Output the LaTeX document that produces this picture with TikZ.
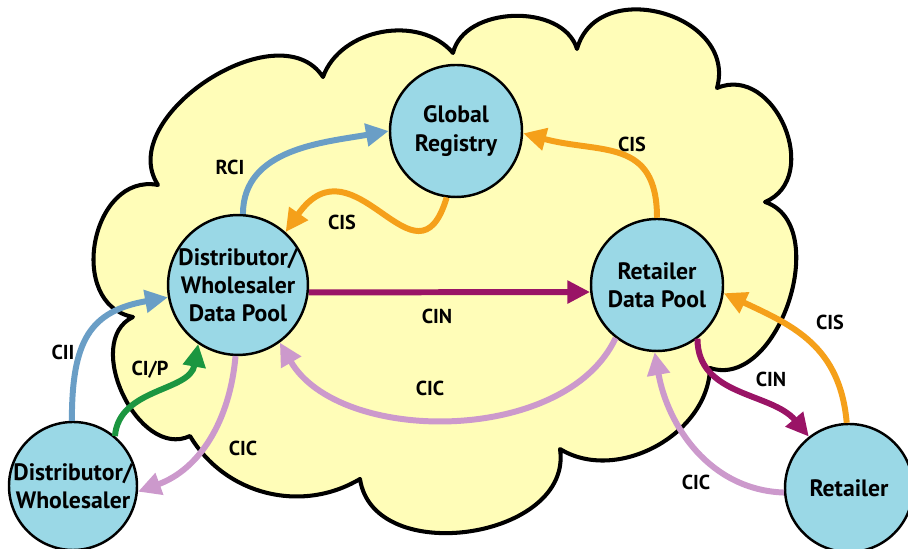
\documentclass[tikz,border=0pt]{standalone}
\usepackage{fontspec}
\setmainfont{PT Sans}
\usepackage{xcolor}
\usepackage{tikz}
\usetikzlibrary{positioning, arrows.meta}

\definecolor{poolblue}{HTML}{9AD8E6}
\definecolor{cloudyellow}{HTML}{FFFDB8}
\definecolor{blueflow}{HTML}{6A9EC6}
\definecolor{orangeflow}{HTML}{F5A01A}
\definecolor{purpleflow}{HTML}{9A1466}
\definecolor{pinkflow}{HTML}{CC99CC}
\definecolor{greenflow}{HTML}{1B9640}

\begin{document}
\begin{tikzpicture}[
    pool/.style={circle, draw=black, line width=1.4pt, fill=poolblue, minimum size=2.64cm,
      inner sep=0pt, align=center, font=\bfseries\fontsize{13.5}{16}\selectfont},
    flow/.style={line width=3.4pt, -{Triangle[length=13pt, width=12.5pt]}},
    lbl/.style={font=\bfseries\fontsize{11.5}{13}\selectfont}
  ]
  \useasboundingbox (0,0) rectangle (18.16,10.98);

  % Cloud
  \draw[line width=2.3pt, fill=cloudyellow, line join=round]
    (3.16,7.28) to[bend left=90, looseness=1.05] (6.46,9.44)
    to[bend left=60] (9.06,9.92)
    to[bend left=75] (11.54,10.0)
    to[bend left=90, looseness=1.35] (14.34,9.22)
    to[bend left=90, looseness=1.3] (15.30,6.94)
    to[bend left=90, looseness=1.05] (14.20,3.62)
    to[bend left=60] (11.20,2.00)
    to[bend left=90, looseness=1.15] (7.20,1.40)
    to[bend left=45] (3.80,2.26)
    to[bend left=90, looseness=1.1] (2.66,4.64)
    to[bend left=90, looseness=1.3] cycle;

  % Data pools and parties
  \node[pool] (gr) at (9.12,8.36) {Global\\Registry};
  \node[pool] (dwdp) at (4.76,5.28) {Distributor/\\Wholesaler\\Data Pool};
  \node[pool] (rdp) at (13.14,5.28) {Retailer\\Data Pool};
  \node[pool, minimum size=2.56cm] (dw) at (1.46,1.26) {Distributor/\\Wholesaler};
  \node[pool, minimum size=2.56cm] (ret) at (16.98,1.22) {Retailer};

  % Flows
  \draw[flow, blueflow] (dwdp.86) to[out=90, in=190] (gr.180);
  \draw[flow, orangeflow] (gr.262) .. controls +(-0.6,-2.0) and +(55:2.4) .. (dwdp.48);
  \draw[flow, orangeflow] (rdp.90) to[out=90, in=-15, looseness=1.3] (gr.-2);
  \draw[flow, purpleflow] (dwdp.-6) -- (rdp.186);
  \draw[flow, pinkflow] (rdp.232) to[out=-115, in=-60, looseness=0.9] (dwdp.-54);
  \draw[flow, blueflow] (dw.91) to[out=90, in=190, looseness=1.3] (dwdp.190);
  \draw[flow, greenflow] (dw.50) to[out=85, in=-100] (dwdp.236);
  \draw[flow, pinkflow] (dwdp.-92) to[out=-95, in=20] (dw.-5);
  \draw[flow, purpleflow] (rdp.-53) to[out=-90, in=130] (ret.128);
  \draw[flow, orangeflow] (ret.92) to[out=95, in=-25, looseness=1.1] (rdp.-7);
  \draw[flow, pinkflow] (ret.184) to[out=178, in=-80] (rdp.-92);

  % Flow labels
  \foreach \n/\x/\y/\t in {lrci/4.6/7.64/RCI, lcisa/6.84/6.54/CIS, lcisb/12.64/8.1/CIS,
      lcina/8.74/4.66/CIN, lcica/8.6/3.22/CIC, lcii/1.26/3.94/CII, lcip/3.0/3.58/{CI/P},
      lcicb/4.86/2.02/CIC, lcinb/15.42/3.4/CIN, lcisc/16.6/4.54/CIS, lcicc/13.92/1.34/CIC}
    \node[lbl] (\n) at (\x,\y) {\t};
\end{tikzpicture}
\end{document}
